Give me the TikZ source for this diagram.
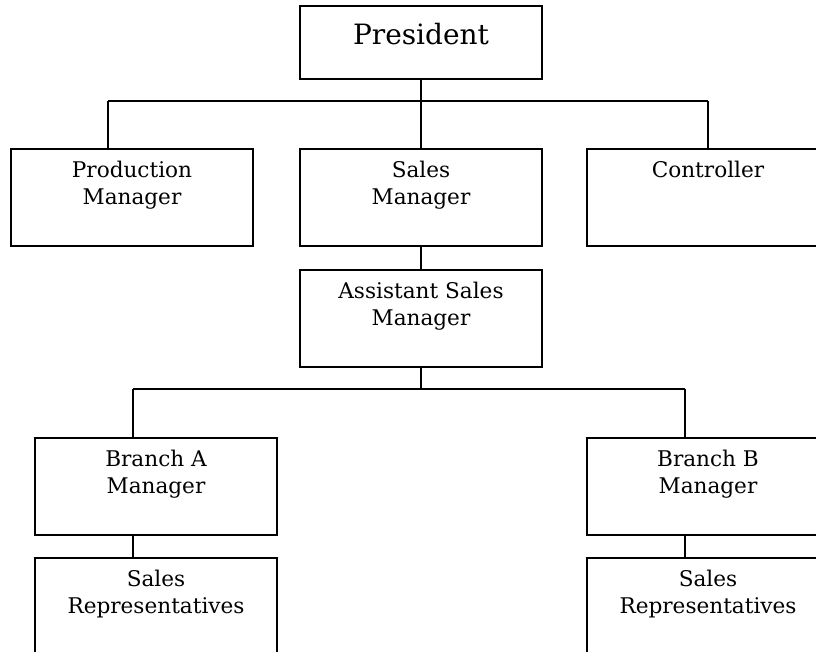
\documentclass[tikz,border=0pt]{standalone}
\usepackage{fontspec}
\setmainfont{DejaVu Serif}
\usetikzlibrary{positioning}

\begin{document}
\begin{tikzpicture}[x=0.5pt,y=-0.5pt,
    unit/.style={draw,line width=0.8pt,minimum width=121pt,minimum height=48.5pt,inner sep=0pt,anchor=north},
    lbl/.style={anchor=north,inner sep=0pt,align=center,font=\fontsize{10.8}{13.5}\selectfont},
    link/.style={line width=0.8pt}]
  \useasboundingbox (0,0) rectangle (816,652);
  \clip (0,0) rectangle (816,652);
  % boxes
  \node [unit,minimum height=36.5pt] (pres) at (421,5) {};
  \node [unit] (pm) at (132,148) {};
  \node [unit] (sm) at (421,148) {};
  \node [unit] (ctl) at (708,148) {};
  \node [unit] (asm) at (421,269) {};
  \node [unit] (bra) at (156,437) {};
  \node [unit] (brb) at (708,437) {};
  \node [unit] (sra) at (156,557) {};
  \node [unit] (srb) at (708,557) {};
  % texts
  \node [lbl,font=\fontsize{14}{16}\selectfont] (prest) at ([yshift=-9pt]pres.north) {President};
  \node [lbl] (pmt) at ([yshift=-6.5pt]pm.north) {Production\\Manager};
  \node [lbl] (smt) at ([yshift=-6.5pt]sm.north) {Sales\\Manager};
  \node [lbl] (ctlt) at ([yshift=-6.5pt]ctl.north) {Controller};
  \node [lbl] (asmt) at ([yshift=-6.5pt]asm.north) {Assistant Sales\\Manager};
  \node [lbl] (brat) at ([yshift=-6.5pt]bra.north) {Branch A\\Manager};
  \node [lbl] (brbt) at ([yshift=-6.5pt]brb.north) {Branch B\\Manager};
  \node [lbl] (srat) at ([yshift=-6.5pt]sra.north) {Sales\\Representatives};
  \node [lbl] (srbt) at ([yshift=-6.5pt]srb.north) {Sales\\Representatives};
  % upper bus
  \coordinate (j1) at (421,101);
  \coordinate (bus1L) at (108,101);
  \coordinate (bus1R) at (708,101);
  \draw [link] (pres) -- (j1);
  \draw [link] (bus1L) -- (bus1R);
  \draw [link] (bus1L) -- (pm.north -| bus1L);
  \draw [link] (j1) -- (sm);
  \draw [link] (bus1R) -- (ctl);
  \draw [link] (sm) -- (asm);
  % lower bus
  \coordinate (j2) at (421,389);
  \coordinate (bus2L) at (133,389);
  \coordinate (bus2R) at (685,389);
  \draw [link] (asm) -- (j2);
  \draw [link] (bus2L) -- (bus2R);
  \draw [link] (bus2L) -- (bra.north -| bus2L);
  \draw [link] (bus2R) -- (brb.north -| bus2R);
  \draw [link] (bra.south -| bus2L) -- (sra.north -| bus2L);
  \draw [link] (brb.south -| bus2R) -- (srb.north -| bus2R);
\end{tikzpicture}
\end{document}
